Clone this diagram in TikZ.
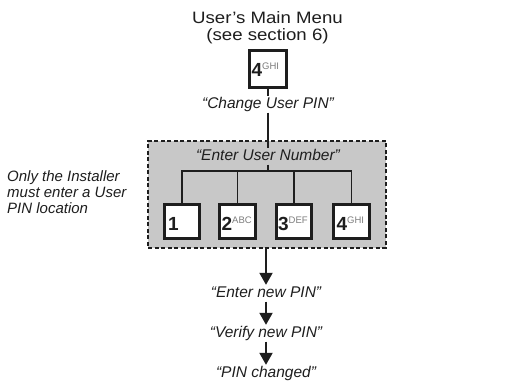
\documentclass[tikz,border=0pt]{standalone}
\usepackage{graphicx}
\usepackage{fontspec}
\setmainfont{Liberation Sans}
\usetikzlibrary{arrows.meta,calc}
\definecolor{fillg}{RGB}{200,200,200}
\definecolor{ink}{RGB}{30,30,30}
\definecolor{supg}{RGB}{125,125,125}
\newcommand\keylab[2]{{\fontsize{19}{19}\selectfont\bfseries #1}\raisebox{6.8pt}{\fontsize{9.5}{9.5}\selectfont\color{supg}#2}}
\begin{document}
\begin{tikzpicture}[x=1pt,y=-1pt,
  keybox/.style={draw=ink,line width=2.6pt,fill=white,minimum width=35.5pt,minimum height=34.5pt,inner sep=0pt},
  keytxt/.style={anchor=base west,inner sep=0pt,text=ink},
  quote/.style={font=\fontsize{15.5}{17}\selectfont\itshape,text=ink,text height=11pt,text depth=3.5pt,inner sep=1pt},
  conn/.style={draw=ink,line width=1.8pt},
  arr/.style={draw=ink,line width=2pt,-{Triangle[width=13pt,length=12pt]}}]
\path[fill=white] (0,0) rectangle (529,384);
\useasboundingbox (0,0) rectangle (529,384);
% title
\node[anchor=base,text=ink,font=\fontsize{16.5}{17}\selectfont,inner sep=0pt] (title) at (267.5,23) {\scalebox{1.13}[1]{\begin{tabular}[t]{@{}c@{}}User’s Main Menu\\(see section 6)\end{tabular}}};
% top key
\node[keybox,minimum width=37.5pt,minimum height=37.5pt] (top) at (268,69) {};
\node[keytxt] (toplab) at ($(top.south west)+(3.5,-13)$) {\keylab{4}{GHI}};
\node[quote,anchor=base] (change) at (268,108) {“Change User PIN”};
% dashed group
\node[draw=ink,fill=fillg,line width=2.4pt,dash pattern=on 4pt off 2.5pt,minimum width=237.6pt,minimum height=106.6pt,inner sep=0pt] (dbox) at (267,194.5) {};
\node[quote,anchor=base] (enter) at (268,160) {“Enter User Number”};
\coordinate (hub) at (268,171);
\node[keybox] (b1) at (182,221.5) {};
\node[keybox] (b2) at (237.5,221.5) {};
\node[keybox] (b3) at (294,221.5) {};
\node[keybox] (b4) at (351.5,221.5) {};
\node[keytxt] (l1) at ($(b1.south west)+(5,-10)$) {\keylab{1}{}};
\node[keytxt] (l2) at ($(b2.south west)+(3,-10)$) {\keylab{2}{ABC}};
\node[keytxt] (l3) at ($(b3.south west)+(3,-10)$) {\keylab{3}{DEF}};
\node[keytxt] (l4) at ($(b4.south west)+(4,-10)$) {\keylab{4}{GHI}};
% note
\node[anchor=north west,align=left,inner sep=0pt,text=ink,font=\fontsize{15}{16}\selectfont\itshape] (note) at (7,170) {Only the Installer\\must enter a User\\PIN location};
% sequence
\node[quote,anchor=base] (newpin) at (266,297) {“Enter new PIN”};
\node[quote,anchor=base] (verify) at (266,337) {“Verify new PIN”};
\node[quote,anchor=base] (done) at (266,377) {“PIN changed”};
% connectors
\draw[conn] (top) -- (change);
\draw[conn] (change) -- (enter);
\draw[conn] (enter) -- (hub);
\draw[conn] (b1) |- (hub) -| (b4);
\draw[conn] (b2) |- (hub);
\draw[conn] (b3) |- (hub);
\draw[arr] (dbox.south -| newpin.north) -- (newpin);
\draw[arr] (newpin) -- (verify);
\draw[arr] (verify) -- (done);
\end{tikzpicture}
\end{document}
